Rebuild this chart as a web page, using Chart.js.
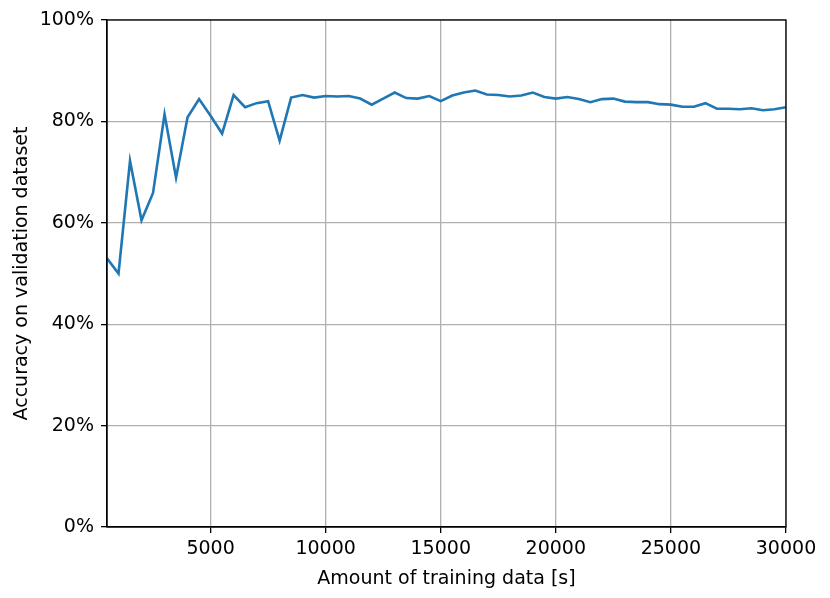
<!DOCTYPE html>
<html>
<head>
<meta charset="utf-8">
<script src="https://cdn.jsdelivr.net/npm/chart.js@4.4.1/dist/chart.umd.min.js"></script>
<style>
  html, body { margin: 0; padding: 0; background: #fff; }
  #wrap { width: 830px; height: 598px; }
</style>
</head>
<body>
<div id="wrap"><canvas id="accChart" width="830" height="598"></canvas></div>
<script>
// Amount of training data [s]
const trainingSeconds = [
  500, 1000, 1500, 2000, 2500, 3000, 3500, 4000, 4500, 5000,
  5500, 6000, 6500, 7000, 7500, 8000, 8500, 9000, 9500, 10000,
  10500, 11000, 11500, 12000, 12500, 13000, 13500, 14000, 14500, 15000,
  15500, 16000, 16500, 17000, 17500, 18000, 18500, 19000, 19500, 20000,
  20500, 21000, 21500, 22000, 22500, 23000, 23500, 24000, 24500, 25000,
  25500, 26000, 26500, 27000, 27500, 28000, 28500, 29000, 29500, 30000
];

// Accuracy on validation dataset [%]
const accuracy = [
  53.0, 50.0, 72.2, 60.5, 65.9, 81.4, 68.9, 80.8, 84.4, 81.1,
  77.6, 85.2, 82.8, 83.6, 84.0, 76.2, 84.7, 85.2, 84.7, 85.0,
  84.9, 85.0, 84.5, 83.3, 84.5, 85.7, 84.6, 84.5, 85.0, 84.0,
  85.1, 85.7, 86.1, 85.3, 85.2, 84.9, 85.1, 85.7, 84.8, 84.5,
  84.8, 84.4, 83.8, 84.4, 84.5, 83.9, 83.8, 83.8, 83.4, 83.3,
  82.9, 82.9, 83.6, 82.5, 82.5, 82.4, 82.6, 82.2, 82.4, 82.8
];

const xTicks = [5000, 10000, 15000, 20000, 25000, 30000];
const yTicks = [0, 20, 40, 60, 80, 100];

const font = { family: "'DejaVu Sans', sans-serif", size: 19 };

// draws the top and right spines like the matplotlib box
const frameBox = {
  id: 'frameBox',
  afterDraw(chart) {
    const { ctx, chartArea: a } = chart;
    ctx.save();
    ctx.strokeStyle = '#000';
    ctx.lineWidth = 1.3;
    ctx.strokeRect(a.left, a.top, a.right - a.left, a.bottom - a.top);
    ctx.restore();
  }
};

Chart.defaults.color = '#000';

new Chart(document.getElementById('accChart'), {
  type: 'line',
  data: {
    datasets: [{
      data: trainingSeconds.map((s, i) => ({ x: s, y: accuracy[i] })),
      borderColor: '#1f77b4',
      borderWidth: 2.6,
      pointRadius: 0,
      tension: 0,
      fill: false
    }]
  },
  options: {
    responsive: false,
    animation: false,
    layout: { padding: { left: 0, top: 20, right: 44, bottom: 0 } },
    plugins: { legend: { display: false }, tooltip: { enabled: false } },
    scales: {
      x: {
        type: 'linear',
        min: 500,
        max: 30000,
        afterBuildTicks: (scale) => { scale.ticks = xTicks.map(v => ({ value: v })); },
        afterFit: (scale) => { scale.height = 71; },
        grid: { color: '#b0b0b0', lineWidth: 1.3, tickColor: '#000', tickLength: 6 },
        border: { color: '#000', width: 1.3 },
        ticks: { font, padding: 5, maxRotation: 0, callback: (v) => String(v) },
        title: { display: true, text: 'Amount of training data [s]', font, padding: { top: 0, bottom: 8 } }
      },
      y: {
        min: 0,
        max: 100,
        afterBuildTicks: (scale) => { scale.ticks = yTicks.map(v => ({ value: v })); },
        afterFit: (scale) => { scale.width = 107; },
        grid: { color: '#b0b0b0', lineWidth: 1.3, tickColor: '#000', tickLength: 6 },
        border: { color: '#000', width: 1.3 },
        ticks: { font, padding: 7, callback: (v) => v + '%' },
        title: { display: true, text: 'Accuracy on validation dataset', font, padding: { top: 11, bottom: 4 } }
      }
    }
  },
  plugins: [frameBox]
});
</script>
</body>
</html>
